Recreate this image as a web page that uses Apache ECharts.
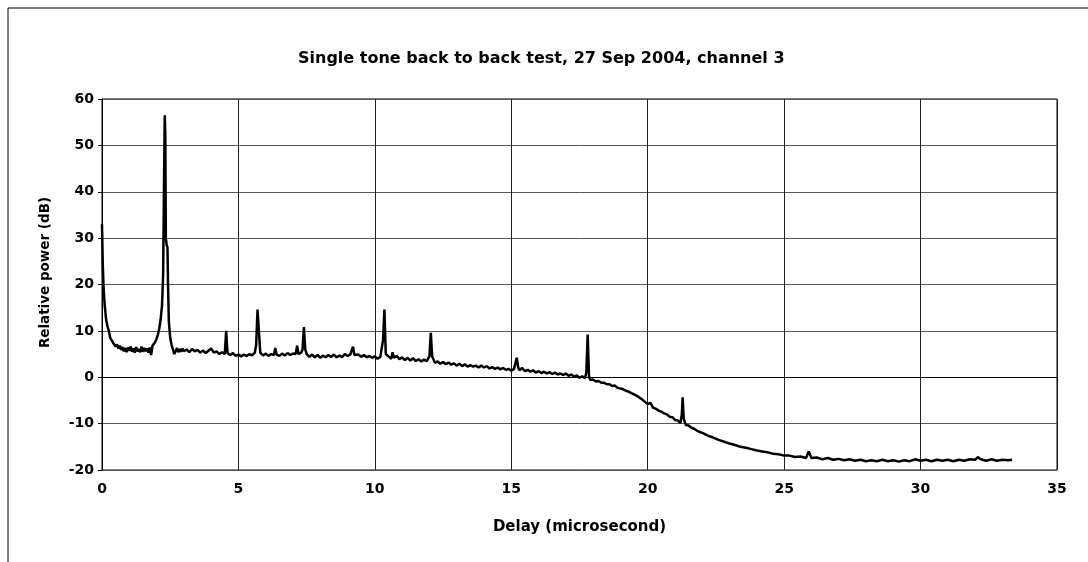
<!DOCTYPE html>
<html>
<head>
<meta charset="utf-8">
<script src="https://cdn.jsdelivr.net/npm/echarts@6/dist/echarts.min.js"></script>
<style>
html,body{margin:0;padding:0;background:#fff;}
#chart{width:1088px;height:562px;}
</style>
</head>
<body>
<div id="chart"></div>
<script>
// Axis ticks
var xTicks = [0, 5, 10, 15, 20, 25, 30, 35];
var yTicks = [-20, -10, 0, 10, 20, 30, 40, 50, 60];

// Trace: [delay (microsecond), relative power (dB)]
var traceStart = [
  [0,33],[0.03,24],[0.06,19],[0.1,15.5],[0.15,12.5],[0.2,11],[0.25,10],[0.3,8.5],[0.35,8],[0.4,7.5],
  [0.45,7.2],[0.5,6.6],[0.55,7.1],[0.6,6.2],[0.65,6.8],[0.7,5.9],[0.75,6.5],[0.8,5.6],[0.85,6.3],[0.9,5.4],
  [0.95,6.4],[1.0,5.7],[1.05,6.6],[1.1,5.5],[1.15,6.2],[1.2,5.3],[1.25,6.5],[1.3,5.6],[1.35,6.1],[1.4,5.4],
  [1.45,6.6],[1.5,5.5],[1.55,6.3],[1.6,5.6],[1.65,6.2],[1.7,5.3],[1.75,6.4],[1.8,4.8],[1.85,6.8],[1.9,7.2],
  [1.95,7.6],[2.0,8.3],[2.05,9.2],[2.1,10.5],[2.15,12.5],[2.2,15.5],[2.24,22],[2.27,40],[2.3,56.5],[2.32,52],
  [2.34,30],[2.37,28.5],[2.4,28],[2.42,20],[2.45,12],[2.5,8.5],[2.55,7],[2.6,6],[2.65,5],[2.7,5.6],
  [2.75,6.3],[2.8,5.4],[2.85,6.1],[2.9,5.5],[2.95,6.2],[3.0,5.6]
];
var traceFlat = [
  [3.1,6.0],[3.2,5.4],[3.3,6.1],[3.4,5.6],[3.5,5.9],[3.6,5.3],[3.7,5.8],[3.8,5.2],[3.9,5.7],[4.0,6.2],
  [4.1,5.3],[4.2,5.6],[4.3,5.0],[4.4,5.4],[4.5,5.0],[4.55,10.0],[4.6,5.2],[4.7,4.8],[4.8,5.2],[4.9,4.6],
  [5.0,4.9],[5.1,4.5],[5.2,4.9],[5.3,4.6],[5.4,5.0],[5.5,4.7],[5.6,5.3],[5.65,7],[5.7,14.6],[5.75,10],
  [5.8,5.3],[5.9,4.7],[6.0,5.1],[6.1,4.6],[6.2,5.0],[6.3,4.8],[6.35,6.3],[6.4,4.9],[6.5,4.6],[6.6,5.1],
  [6.7,4.7],[6.8,5.2],[6.9,4.8],[7.0,5.1],[7.1,5.0],[7.15,6.8],[7.2,5.0],[7.3,5.3],[7.35,6],[7.4,10.8],
  [7.45,6],[7.5,5.0],[7.6,4.4],[7.7,4.9],[7.8,4.3],[7.9,4.8],[8.0,4.2],[8.1,4.7],[8.2,4.3],[8.3,4.8],
  [8.4,4.4],[8.5,4.9],[8.6,4.3],[8.7,4.7],[8.8,4.3],[8.9,5.0],[9.0,4.6],[9.1,4.9],[9.2,6.6],[9.25,4.8],
  [9.3,4.5],[9.4,4.9],[9.5,4.4],[9.6,4.8],[9.7,4.3],[9.8,4.6],[9.9,4.2],[10.0,4.5],[10.1,4.0],[10.2,4.4],
  [10.25,4.3],[10.3,8],[10.35,14.6],[10.4,5],[10.5,4.5],[10.6,4.0],[10.65,5.4],[10.7,4.2],[10.8,4.6],[10.9,3.9],
  [11.0,4.3],[11.1,3.7],[11.2,4.2],[11.3,3.6],[11.4,4.1],[11.5,3.5],[11.6,3.9],[11.7,3.4],[11.8,3.8],[11.9,3.5],
  [12.0,4.5],[12.05,9.6],[12.1,4.5],[12.2,3.1],[12.3,3.4],[12.4,2.9],[12.5,3.3],[12.6,2.8],[12.7,3.2],[12.8,2.7],
  [12.9,3.0]
];
var traceKnee = [
  [13.0,2.5],[13.1,2.9],[13.2,2.4],[13.3,2.8],[13.4,2.3],[13.5,2.6],[13.6,2.3],[13.7,2.5],[13.8,2.1],[13.9,2.5],
  [14.0,2.1],[14.1,2.4],[14.2,1.9],[14.3,2.2],[14.4,1.8],[14.5,2.1],[14.6,1.7],[14.7,2.0],[14.8,1.6],[14.9,1.8],
  [15.0,1.4],[15.1,1.8],[15.2,4.2],[15.25,2.2],[15.3,1.5],[15.4,2.0],[15.5,1.3],[15.6,1.6],[15.7,1.2],[15.8,1.5],
  [15.9,1.0],[16.0,1.3],[16.1,0.9],[16.2,1.2],[16.3,0.8],[16.4,1.1],[16.5,0.7],[16.6,1.0],[16.7,0.6],[16.8,0.8],
  [16.9,0.5],[17.0,0.8],[17.1,0.3],[17.2,0.6],[17.3,0.1],[17.4,0.4],[17.5,-0.1],[17.6,0.2],[17.7,-0.2],[17.75,1],
  [17.8,9.2],[17.85,0],[17.9,-0.6],[18.0,-0.5],[18.1,-0.9],[18.2,-0.8],[18.3,-1.2],[18.4,-1.2],[18.5,-1.5],[18.6,-1.5],
  [18.7,-1.9],[18.8,-1.8],[18.9,-2.3],[19.0,-2.4],[19.1,-2.6],[19.2,-2.9],[19.3,-3.1],[19.4,-3.4],[19.5,-3.7],[19.6,-4.0],
  [19.7,-4.4],[19.8,-4.8],[19.9,-5.3],[20.0,-5.8]
];
var traceFloor = [
  [20.1,-5.5],[20.2,-6.6],[20.3,-6.8],[20.4,-7.2],[20.5,-7.4],[20.6,-7.8],[20.7,-8.0],[20.8,-8.5],[20.9,-8.6],[21.0,-9.2],
  [21.1,-9.3],[21.2,-9.9],[21.25,-8],[21.28,-4.3],[21.32,-9],[21.4,-10.3],[21.5,-10.4],[21.6,-10.9],[21.7,-11.1],[21.8,-11.5],
  [21.9,-11.8],[22.0,-12.0],[22.2,-12.6],[22.4,-13.0],[22.6,-13.5],[22.8,-13.9],[23.0,-14.3],[23.2,-14.6],[23.4,-15.0],[23.6,-15.2],
  [23.8,-15.5],[24.0,-15.8],[24.2,-16.0],[24.4,-16.2],[24.6,-16.5],[24.8,-16.6],[25.0,-16.9],[25.2,-16.9],[25.4,-17.2],[25.6,-17.1],
  [25.8,-17.4],[25.9,-16.0],[26.0,-17.4],[26.2,-17.3],[26.4,-17.7],[26.6,-17.4],[26.8,-17.8],[27.0,-17.6],[27.2,-17.9],[27.4,-17.7],
  [27.6,-18.0],[27.8,-17.8],[28.0,-18.1],[28.2,-17.9],[28.4,-18.1],[28.6,-17.8],[28.8,-18.1],[29.0,-17.9],[29.2,-18.2],[29.4,-17.9],
  [29.6,-18.1],[29.8,-17.7],[30.0,-18.0],[30.2,-17.8],[30.4,-18.1],[30.6,-17.8],[30.8,-18.0],[31.0,-17.8],[31.2,-18.1],[31.4,-17.8],
  [31.6,-18.0],[31.8,-17.7],[32.0,-17.8],[32.1,-17.2],[32.2,-17.7],[32.4,-18.0],[32.6,-17.7],[32.8,-18.0],[33.0,-17.8],[33.2,-17.9],
  [33.35,-17.8]
];

var titleText = 'Single tone back to back test, 27 Sep 2004, channel 3';
var xName = 'Delay (microsecond)';
var yName = 'Relative power (dB)';

var trace = traceStart.concat(traceFlat, traceKnee, traceFloor);
var FONT = '"DejaVu Sans", Arial, sans-serif';

var chart = echarts.init(document.getElementById('chart'), null, {renderer: 'canvas'});
chart.setOption({
  backgroundColor: '#ffffff',
  animation: false,
  title: {
    text: titleText,
    left: 293, top: 46,
    textStyle: {fontFamily: FONT, fontWeight: 'bold', fontSize: 16, color: '#000'}
  },
  grid: {left: 102, right: 31, top: 99, bottom: 92, show: true, borderColor: '#000', borderWidth: 1},
  xAxis: {
    type: 'value',
    min: xTicks[0], max: xTicks[xTicks.length - 1], interval: 5,
    name: xName, nameLocation: 'middle', nameGap: 50,
    nameTextStyle: {fontFamily: FONT, fontWeight: 'bold', fontSize: 15, color: '#000'},
    axisLine: {show: true, lineStyle: {color: '#000', width: 1}},
    axisTick: {show: true, length: 4, inside: false, lineStyle: {color: '#000'}},
    axisLabel: {fontFamily: FONT, fontWeight: 'bold', fontSize: 14, color: '#000', margin: 12},
    splitLine: {show: true, lineStyle: {color: '#222', width: 1}}
  },
  yAxis: {
    type: 'value',
    min: yTicks[0], max: yTicks[yTicks.length - 1], interval: 10,
    name: yName, nameLocation: 'middle', nameGap: 50, nameRotate: 90,
    nameTextStyle: {fontFamily: FONT, fontWeight: 'bold', fontSize: 13.5, color: '#000', padding: [0, 0, 0, 24]},
    axisLine: {show: true, lineStyle: {color: '#000', width: 1}},
    axisTick: {show: true, length: 4, inside: false, lineStyle: {color: '#000'}},
    axisLabel: {fontFamily: FONT, fontWeight: 'bold', fontSize: 14, color: '#000', margin: 8},
    splitLine: {show: true, lineStyle: {color: '#555', width: 1}}
  },
  graphic: [
    {type: 'polyline', silent: true, shape: {points: [[8, 562], [8, 8], [1088, 8]]},
     style: {stroke: '#000', lineWidth: 1, fill: null}}
  ],
  series: [{
    type: 'line',
    data: trace,
    showSymbol: false,
    symbol: 'none',
    lineStyle: {color: '#000', width: 2.5},
    clip: true
  }]
});
</script>
</body>
</html>
